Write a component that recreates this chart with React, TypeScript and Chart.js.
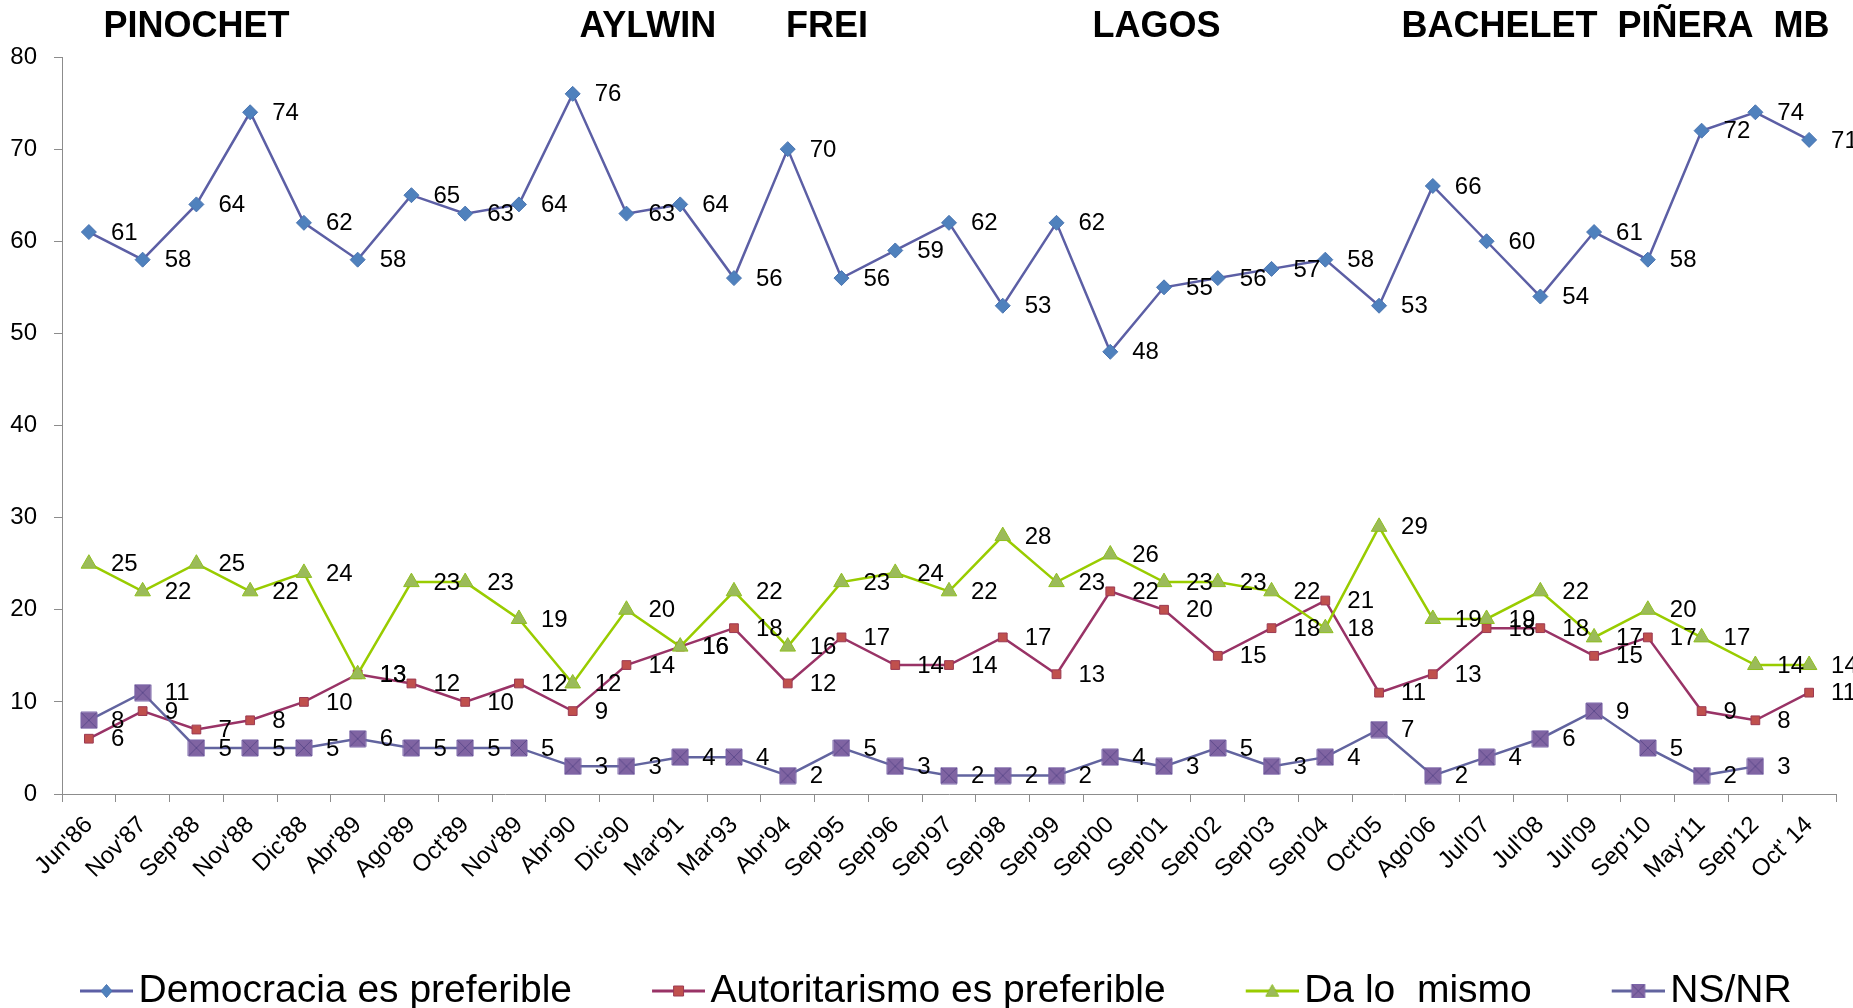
import React, { useEffect, useRef } from 'react';
import { Chart, registerables } from 'chart.js';

Chart.register(...registerables);

const FONT = "'Liberation Sans', Arial, Helvetica, sans-serif";

const categories = ["Jun'86", "Nov'87", "Sep'88", "Nov'88", "Dic'88", "Abr'89", "Ago'89", "Oct'89", "Nov'89", "Abr'90", "Dic'90", "Mar'91", "Mar'93", "Abr'94", "Sep'95", "Sep'96", "Sep'97", "Sep'98", "Sep'99", "Sep'00", "Sep'01", "Sep'02", "Sep'03", "Sep'04", "Oct'05", "Ago'06", "Jul'07", "Jul'08", "Jul'09", "Sep'10", "May'11", "Sep'12", "Oct' 14"];

const democracia = [61, 58, 64, 74, 62, 58, 65, 63, 64, 76, 63, 64, 56, 70, 56, 59, 62, 53, 62, 48, 55, 56, 57, 58, 53, 66, 60, 54, 61, 58, 72, 74, 71];
const autoritarismo = [6, 9, 7, 8, 10, 13, 12, 10, 12, 9, 14, 16, 18, 12, 17, 14, 14, 17, 13, 22, 20, 15, 18, 21, 11, 13, 18, 18, 15, 17, 9, 8, 11];
const daLoMismo = [25, 22, 25, 22, 24, 13, 23, 23, 19, 12, 20, 16, 22, 16, 23, 24, 22, 28, 23, 26, 23, 23, 22, 18, 29, 19, 19, 22, 17, 20, 17, 14, 14];
const nsnr = [8, 11, 5, 5, 5, 6, 5, 5, 5, 3, 3, 4, 4, 2, 5, 3, 2, 2, 2, 4, 3, 5, 3, 4, 7, 2, 4, 6, 9, 5, 2, 3, null];

const seriesNames = ['Democracia es preferible', 'Autoritarismo es preferible', 'Da lo  mismo', 'NS/NR'];

// Period labels above the chart, anchored at a (fractional) category index
const periodNames = ['PINOCHET', 'AYLWIN', 'FREI', 'LAGOS', 'BACHELET', 'PIÑERA', 'MB'];
const periodAt = [2.0, 10.4, 13.73, 19.86, 26.24, 29.7, 31.86];

const yMin = 0;
const yMax = 80;
const yStep = 10;

type Kind = 'diamond' | 'square' | 'triangle' | 'squareX';

function drawMarker(ctx: CanvasRenderingContext2D, kind: Kind, cx: number, cy: number, r: number, fill: string, stroke: string) {
  ctx.save();
  ctx.fillStyle = fill;
  ctx.strokeStyle = stroke;
  ctx.lineWidth = 1;
  ctx.beginPath();
  if (kind === 'diamond') {
    ctx.moveTo(cx, cy - r);
    ctx.lineTo(cx + r * 0.85, cy);
    ctx.lineTo(cx, cy + r);
    ctx.lineTo(cx - r * 0.85, cy);
    ctx.closePath();
    ctx.fill();
    ctx.stroke();
  } else if (kind === 'square') {
    ctx.rect(cx - r, cy - r, 2 * r, 2 * r);
    ctx.fill();
    ctx.stroke();
  } else if (kind === 'triangle') {
    ctx.moveTo(cx, cy - r);
    ctx.lineTo(cx + r, cy + r * 0.8);
    ctx.lineTo(cx - r, cy + r * 0.8);
    ctx.closePath();
    ctx.fill();
    ctx.stroke();
  } else {
    ctx.rect(cx - r, cy - r, 2 * r, 2 * r);
    ctx.fill();
    ctx.stroke();
    ctx.beginPath();
    ctx.strokeStyle = '#5d4a8c';
    ctx.moveTo(cx - r, cy - r);
    ctx.lineTo(cx + r, cy + r);
    ctx.moveTo(cx + r, cy - r);
    ctx.lineTo(cx - r, cy + r);
    ctx.stroke();
  }
  ctx.restore();
}

function markerImage(kind: Kind, r: number, fill: string, stroke: string) {
  const c = document.createElement('canvas');
  const s = Math.ceil(2 * r + 2);
  c.width = s;
  c.height = s;
  const ctx = c.getContext('2d')!;
  drawMarker(ctx, kind, s / 2, s / 2, r, fill, stroke);
  return c;
}

// legend symbol: transparent left part, then a short line with the marker in its middle
function legendImage(kind: Kind, r: number, line: string, fill: string, stroke: string) {
  const c = document.createElement('canvas');
  c.width = 127;
  c.height = 22;
  const ctx = c.getContext('2d')!;
  ctx.strokeStyle = line;
  ctx.lineWidth = 3;
  ctx.beginPath();
  ctx.moveTo(74, 11);
  ctx.lineTo(127, 11);
  ctx.stroke();
  drawMarker(ctx, kind, 100.5, 11, r, fill, stroke);
  return c;
}

const valueLabels = {
  id: 'valueLabels',
  afterDatasetsDraw(chart: any) {
    const ctx = chart.ctx;
    ctx.save();
    ctx.font = `24px ${FONT}`;
    ctx.fillStyle = '#000';
    ctx.textAlign = 'left';
    ctx.textBaseline = 'middle';
    chart.data.datasets.forEach((ds: any, di: number) => {
      const meta = chart.getDatasetMeta(di);
      meta.data.forEach((pt: any, i: number) => {
        const v = ds.data[i];
        if (v === null || v === undefined) return;
        ctx.fillText(String(v), pt.x + 22, pt.y + 1);
      });
    });
    ctx.restore();
  },
};

const periodTitles = {
  id: 'periodTitles',
  afterDraw(chart: any) {
    const ctx = chart.ctx;
    const xs = chart.scales.x;
    const p0 = xs.getPixelForValue(0);
    const step = xs.getPixelForValue(1) - p0;
    ctx.save();
    ctx.font = `bold 36px ${FONT}`;
    ctx.fillStyle = '#000';
    ctx.textAlign = 'center';
    ctx.textBaseline = 'middle';
    periodNames.forEach((n, i) => {
      ctx.fillText(n, p0 + periodAt[i] * step, 27);
    });
    ctx.restore();
  },
};

export default function App() {
  const ref = useRef<HTMLCanvasElement | null>(null);

  useEffect(() => {
    if (!ref.current) return;
    const kinds: Kind[] = ['diamond', 'square', 'triangle', 'squareX'];
    const lineColors = ['#5c5fa5', '#993366', '#99cc00', '#62649f'];
    const fills = ['#4f81bd', '#c0504d', '#9bbb59', '#8064a2'];
    const strokes = ['#4a74b0', '#9c3a52', '#8fbf20', '#7a64a8'];
    const legendR = [6.5, 5, 6.5, 6.5];
    const legendImgs = kinds.map((k, i) => legendImage(k, legendR[i], lineColors[i], fills[i], strokes[i]));
    const series = [democracia, autoritarismo, daLoMismo, nsnr];
    const styles: any[] = ['rectRot', 'rect', 'triangle', markerImage('squareX', 8, fills[3], strokes[3])];
    const radii = [7.5, 6.2, 9, 8];

    const chart = new Chart(ref.current, {
      type: 'line',
      data: {
        labels: categories,
        datasets: series.map((d, i) => ({
          label: seriesNames[i],
          data: d,
          borderColor: lineColors[i],
          backgroundColor: fills[i],
          borderWidth: 2.5,
          pointStyle: styles[i],
          pointRadius: radii[i],
          pointBackgroundColor: fills[i],
          pointBorderColor: strokes[i],
          pointBorderWidth: 1,
          tension: 0,
          fill: false,
          order: 4 - i,
        })),
      },
      options: {
        responsive: false,
        animation: false,
        devicePixelRatio: 1,
        layout: { padding: { top: 57, left: 0, right: 17, bottom: -12.5 } },
        plugins: {
          title: { display: false },
          tooltip: { enabled: false },
          legend: {
            display: true,
            position: 'bottom',
            align: 'start',
            labels: {
              usePointStyle: true,
              pointStyleWidth: 99,
              padding: 20,
              color: '#000',
              font: { family: FONT, size: 39 },
              generateLabels: (ch: any) =>
                ch.data.datasets.map((ds: any, i: number) => ({
                  text: ds.label,
                  pointStyle: legendImgs[i],
                  fillStyle: fills[i],
                  strokeStyle: lineColors[i],
                  lineWidth: 0,
                  hidden: false,
                  datasetIndex: i,
                  fontColor: '#000',
                })),
            },
          },
        },
        scales: {
          x: {
            type: 'category',
            offset: true,
            afterFit: (s: any) => {
              s.height = 157.5;
            },
            grid: {
              display: true,
              offset: true,
              drawOnChartArea: false,
              drawTicks: true,
              tickLength: 8,
              color: '#8c8c8c',
            },
            border: { display: true, color: '#8c8c8c', width: 1 },
            ticks: {
              autoSkip: false,
              maxRotation: 45,
              minRotation: 45,
              padding: 9,
              color: '#000',
              font: { family: FONT, size: 24 },
            },
          },
          y: {
            min: yMin,
            max: yMax,
            afterFit: (s: any) => {
              s.width = 62;
            },
            grid: {
              display: true,
              drawOnChartArea: false,
              drawTicks: true,
              tickLength: 8,
              color: '#8c8c8c',
            },
            border: { display: true, color: '#8c8c8c', width: 1 },
            ticks: {
              stepSize: yStep,
              padding: 17,
              color: '#000',
              font: { family: FONT, size: 24 },
            },
          },
        },
      },
      plugins: [valueLabels, periodTitles],
    } as any);

    return () => chart.destroy();
  }, []);

  return (
    <div style={{ position: 'fixed', left: 0, top: 0, width: 1853, height: 1008, background: '#fff' }}>
      <canvas ref={ref} width={1853} height={1008} style={{ display: 'block', width: 1853, height: 1008 }} />
    </div>
  );
}
